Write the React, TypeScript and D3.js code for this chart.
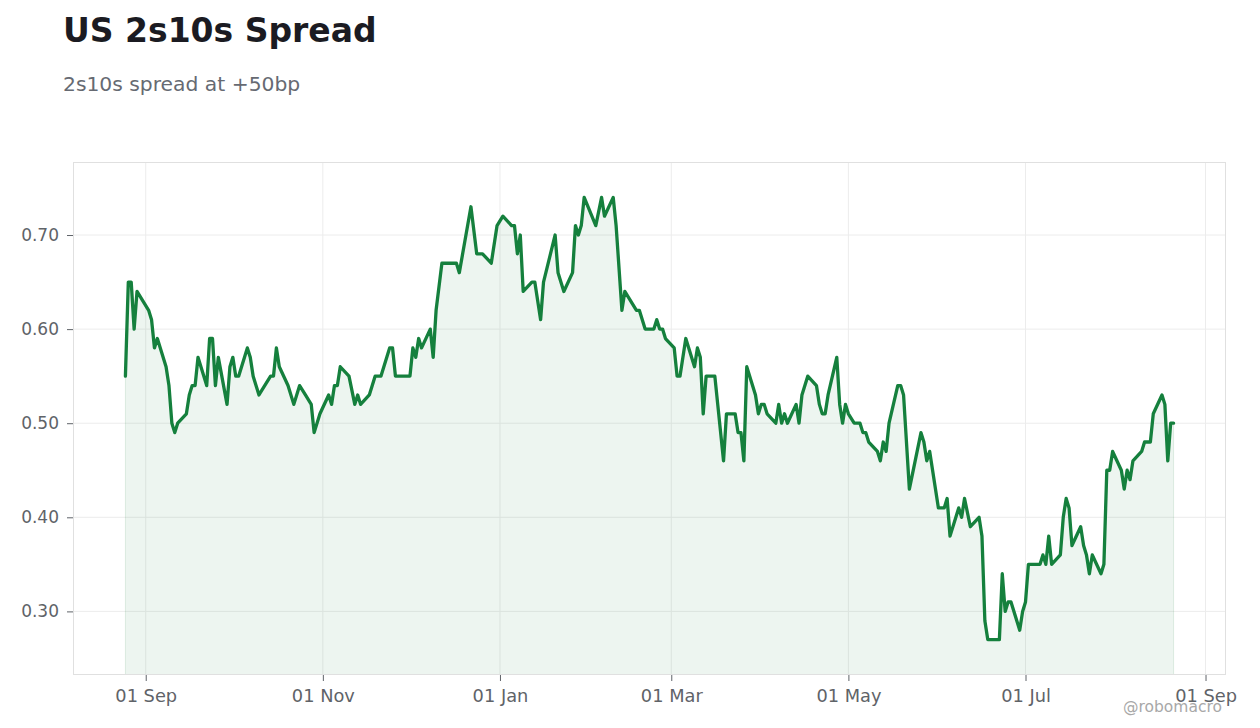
import React, { useEffect, useRef } from "react";
import * as d3 from "d3";

const TITLE = "US 2s10s Spread";
const SUBTITLE = "2s10s spread at +50bp";
const WATERMARK = "@robomacro";

const dates: string[] = [
  "2024-08-25","2024-08-26","2024-08-27","2024-08-28","2024-08-29","2024-09-02","2024-09-03","2024-09-04","2024-09-05","2024-09-08",
  "2024-09-09","2024-09-10","2024-09-11","2024-09-12","2024-09-15","2024-09-16","2024-09-17","2024-09-18","2024-09-19","2024-09-22",
  "2024-09-23","2024-09-24","2024-09-25","2024-09-26","2024-09-29","2024-09-30","2024-10-01","2024-10-02","2024-10-03","2024-10-06",
  "2024-10-07","2024-10-08","2024-10-10","2024-10-14","2024-10-15","2024-10-16","2024-10-17","2024-10-20","2024-10-22","2024-10-24",
  "2024-10-26","2024-10-28","2024-10-29","2024-10-31","2024-11-03","2024-11-04","2024-11-05","2024-11-06","2024-11-07","2024-11-10",
  "2024-11-12","2024-11-13","2024-11-14","2024-11-17","2024-11-19","2024-11-21","2024-11-24","2024-11-25","2024-11-26","2024-12-01",
  "2024-12-02","2024-12-03","2024-12-04","2024-12-05","2024-12-08","2024-12-09","2024-12-10","2024-12-12","2024-12-17","2024-12-18",
  "2024-12-22","2024-12-24","2024-12-26","2024-12-29","2024-12-31","2025-01-02","2025-01-05","2025-01-06","2025-01-07","2025-01-08",
  "2025-01-09","2025-01-12","2025-01-13","2025-01-15","2025-01-16","2025-01-20","2025-01-21","2025-01-23","2025-01-26","2025-01-27",
  "2025-01-28","2025-01-29","2025-01-30","2025-02-03","2025-02-05","2025-02-06","2025-02-09","2025-02-10","2025-02-12","2025-02-13",
  "2025-02-17","2025-02-18","2025-02-20","2025-02-23","2025-02-24","2025-02-25","2025-02-26","2025-02-27","2025-03-02","2025-03-03",
  "2025-03-04","2025-03-06","2025-03-09","2025-03-10","2025-03-11","2025-03-12","2025-03-13","2025-03-16","2025-03-17","2025-03-19",
  "2025-03-20","2025-03-23","2025-03-24","2025-03-25","2025-03-26","2025-03-27","2025-03-30","2025-03-31","2025-04-01","2025-04-02",
  "2025-04-03","2025-04-06","2025-04-07","2025-04-08","2025-04-09","2025-04-10","2025-04-13","2025-04-14","2025-04-15","2025-04-17",
  "2025-04-20","2025-04-21","2025-04-22","2025-04-23","2025-04-24","2025-04-27","2025-04-28","2025-04-29","2025-04-30","2025-05-01",
  "2025-05-03","2025-05-05","2025-05-06","2025-05-07","2025-05-08","2025-05-11","2025-05-12","2025-05-13","2025-05-14","2025-05-15",
  "2025-05-18","2025-05-19","2025-05-20","2025-05-22","2025-05-26","2025-05-27","2025-05-28","2025-05-29","2025-06-01","2025-06-03",
  "2025-06-04","2025-06-05","2025-06-08","2025-06-09","2025-06-10","2025-06-12","2025-06-15","2025-06-16","2025-06-17","2025-06-18",
  "2025-06-22","2025-06-23","2025-06-24","2025-06-25","2025-06-26","2025-06-29","2025-06-30","2025-07-01","2025-07-02","2025-07-06",
  "2025-07-07","2025-07-08","2025-07-09","2025-07-10","2025-07-13","2025-07-14","2025-07-15","2025-07-16","2025-07-17","2025-07-20",
  "2025-07-21","2025-07-22","2025-07-23","2025-07-24","2025-07-27","2025-07-28","2025-07-29","2025-07-30","2025-07-31","2025-08-03",
  "2025-08-04","2025-08-05","2025-08-06","2025-08-07","2025-08-10","2025-08-11","2025-08-13","2025-08-14","2025-08-17","2025-08-18",
  "2025-08-19","2025-08-20","2025-08-21",
];

const spread: number[] = [
  0.55,0.65,0.65,0.60,0.64,0.62,0.61,0.58,0.59,0.56,
  0.54,0.50,0.49,0.50,0.51,0.53,0.54,0.54,0.57,0.54,
  0.59,0.59,0.54,0.57,0.52,0.56,0.57,0.55,0.55,0.58,
  0.57,0.55,0.53,0.55,0.55,0.58,0.56,0.54,0.52,0.54,
  0.53,0.52,0.49,0.51,0.53,0.52,0.54,0.54,0.56,0.55,
  0.52,0.53,0.52,0.53,0.55,0.55,0.58,0.58,0.55,0.55,
  0.58,0.57,0.59,0.58,0.60,0.57,0.62,0.67,0.67,0.66,
  0.73,0.68,0.68,0.67,0.71,0.72,0.71,0.71,0.68,0.70,
  0.64,0.65,0.65,0.61,0.65,0.70,0.66,0.64,0.66,0.71,
  0.70,0.71,0.74,0.71,0.74,0.72,0.74,0.71,0.62,0.64,
  0.62,0.62,0.60,0.60,0.61,0.60,0.60,0.59,0.58,0.55,
  0.55,0.59,0.56,0.58,0.57,0.51,0.55,0.55,0.52,0.46,
  0.51,0.51,0.49,0.49,0.46,0.56,0.53,0.51,0.52,0.52,
  0.51,0.50,0.52,0.50,0.51,0.50,0.52,0.50,0.53,0.55,
  0.54,0.52,0.51,0.51,0.53,0.57,0.52,0.50,0.52,0.51,
  0.50,0.50,0.49,0.49,0.48,0.47,0.46,0.48,0.47,0.50,
  0.54,0.54,0.53,0.43,0.49,0.48,0.46,0.47,0.41,0.41,
  0.42,0.38,0.41,0.40,0.42,0.39,0.40,0.38,0.29,0.27,
  0.27,0.34,0.30,0.31,0.31,0.28,0.30,0.31,0.35,0.35,
  0.36,0.35,0.38,0.35,0.36,0.40,0.42,0.41,0.37,0.39,
  0.37,0.36,0.34,0.36,0.34,0.35,0.45,0.45,0.47,0.45,
  0.43,0.45,0.44,0.46,0.47,0.48,0.48,0.51,0.53,0.52,
  0.46,0.50,0.50,
];

const yTicks: number[] = [0.3, 0.4, 0.5, 0.6, 0.7];
const xTickDates: string[] = ["2024-09-01","2024-11-01","2025-01-01","2025-03-01","2025-05-01","2025-07-01","2025-09-01"];

const W = 1260;
const H = 728;
const M = { left: 73, right: 1226, top: 162, bottom: 675 };

const LINE = "#15803d";
const FONT = "'DejaVu Sans', sans-serif";

export default function App() {
  const ref = useRef<SVGSVGElement>(null);

  useEffect(() => {
    const parse = d3.utcParse("%Y-%m-%d");
    const data = dates.map((d, i) => ({ date: parse(d) as Date, value: spread[i] }));

    const [t0, t1] = d3.extent(data, (d) => d.date) as [Date, Date];
    const tPad = (t1.getTime() - t0.getTime()) * 0.05;
    const x = d3
      .scaleUtc()
      .domain([new Date(t0.getTime() - tPad), new Date(t1.getTime() + tPad)])
      .range([M.left, M.right]);

    const [v0, v1] = d3.extent(data, (d) => d.value) as [number, number];
    const vPad = (v1 - v0) * 0.08;
    const y = d3.scaleLinear().domain([v0 - vPad, v1 + vPad]).range([M.bottom, M.top]);

    const svg = d3.select(ref.current);
    svg.selectAll("*").remove();

    svg.append("rect").attr("width", W).attr("height", H).attr("fill", "#ffffff");

    // title
    svg.append("text").attr("x", 63).attr("y", 42).text(TITLE)
      .attr("font-family", FONT).attr("font-weight", "bold").attr("font-size", 33).attr("fill", "#1b1b22");
    svg.append("text").attr("x", 63).attr("y", 91).text(SUBTITLE)
      .attr("font-family", FONT).attr("font-size", 20.3).attr("fill", "#666a72");

    const xt = xTickDates.map((s) => parse(s) as Date);

    // gridlines
    const grid = svg.append("g");
    grid.selectAll("line.v").data(xt).join("line")
      .attr("x1", (d) => x(d)).attr("x2", (d) => x(d))
      .attr("y1", M.top).attr("y2", M.bottom)
      .attr("stroke", "#ececec").attr("stroke-width", 1);
    grid.selectAll("line.h").data(yTicks).join("line")
      .attr("x1", M.left).attr("x2", M.right)
      .attr("y1", (d) => y(d)).attr("y2", (d) => y(d))
      .attr("stroke", "#ececec").attr("stroke-width", 1);

    // area + line
    const area = d3.area<{ date: Date; value: number }>()
      .x((d) => x(d.date)).y0(M.bottom).y1((d) => y(d.value));
    const line = d3.line<{ date: Date; value: number }>()
      .x((d) => x(d.date)).y((d) => y(d.value));

    svg.append("path").datum(data).attr("d", area)
      .attr("fill", LINE).attr("fill-opacity", 0.08);
    svg.append("line")
      .attr("x1", x(t0)).attr("x2", x(t0)).attr("y1", y(data[0].value)).attr("y2", M.bottom)
      .attr("stroke", LINE).attr("stroke-opacity", 0.12).attr("stroke-width", 1);
    svg.append("line")
      .attr("x1", x(t1)).attr("x2", x(t1)).attr("y1", y(data[data.length - 1].value)).attr("y2", M.bottom)
      .attr("stroke", LINE).attr("stroke-opacity", 0.12).attr("stroke-width", 1);
    svg.append("path").datum(data).attr("d", line)
      .attr("fill", "none").attr("stroke", LINE).attr("stroke-width", 3.3)
      .attr("stroke-linejoin", "round").attr("stroke-linecap", "round");

    // frame
    svg.append("rect")
      .attr("x", M.left + 0.5).attr("y", M.top + 0.5)
      .attr("width", M.right - M.left - 1).attr("height", M.bottom - M.top - 1)
      .attr("fill", "none").attr("stroke", "#e0e0e0").attr("stroke-width", 1);

    // y axis
    const yAxis = d3.axisLeft(y).tickValues(yTicks).tickFormat(d3.format(".2f")).tickSize(6).tickPadding(8);
    const gy = svg.append("g").attr("transform", `translate(${M.left},0)`).call(yAxis);
    gy.select(".domain").remove();
    gy.selectAll(".tick line").attr("stroke", "#5f6368");
    gy.selectAll(".tick text").attr("font-family", FONT).attr("font-size", 17).attr("fill", "#5f6368");

    // x axis
    const xAxis = d3.axisBottom(x).tickValues(xt).tickFormat(d3.utcFormat("%d %b") as any).tickSize(6).tickPadding(8);
    const gx = svg.append("g").attr("transform", `translate(0,${M.bottom})`).call(xAxis);
    gx.select(".domain").remove();
    gx.selectAll(".tick line").attr("stroke", "#5f6368");
    gx.selectAll(".tick text").attr("font-family", FONT).attr("font-size", 17.8).attr("fill", "#5f6368");

    // watermark
    svg.append("text").attr("x", 1222).attr("y", 712).attr("text-anchor", "end").text(WATERMARK)
      .attr("font-family", FONT).attr("font-size", 15.5).attr("fill", "#a8a8a8");
  }, []);

  return (
    <svg
      ref={ref}
      width={W}
      height={H}
      style={{ position: "absolute", left: 0, top: 0, display: "block" }}
    />
  );
}
